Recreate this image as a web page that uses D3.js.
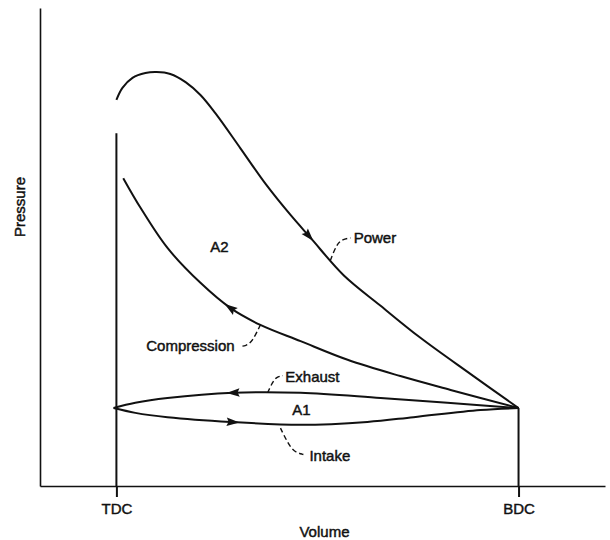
<!DOCTYPE html>
<html>
<head>
<meta charset="utf-8">
<script src="https://cdn.jsdelivr.net/npm/d3@7"></script>
<style>
  html, body { margin:0; padding:0; background:#fff; }
  svg { display:block; }
  text { font-family:"Liberation Sans", Arial, "DejaVu Sans", sans-serif; font-size:15px;
         fill:#111; stroke:#111; stroke-width:0.45px; }
</style>
</head>
<body>
<svg id="pv" width="610" height="540"></svg>
<script>
// Indicator (p-V) diagram of a four-stroke engine.
// Volume: 0 = TDC, 1 = BDC. Pressure in arbitrary units, 0 at the volume axis.

// Power stroke, TDC -> BDC
var POWER_V = [0, 0.015, 0.040, 0.072, 0.100, 0.134, 0.172, 0.209, 0.246, 0.308, 0.371, 0.433, 0.483, 0.565, 0.657, 0.756, 0.881, 1];
var POWER_P = [80.8, 83.3, 85.4, 86.4, 86.6, 86.2, 84.5, 81.8, 78.0, 70.7, 63.2, 56.7, 51.9, 44.1, 37.7, 31.0, 23.4, 16.3];

// Compression stroke, BDC -> TDC
var COMP_V = [1, 0.831, 0.706, 0.575, 0.458, 0.358, 0.284, 0.209, 0.127, 0.060, 0.017];
var COMP_P = [16.3, 20.1, 23.0, 26.4, 30.3, 33.7, 37.2, 42.5, 49.8, 58.2, 64.4];

// Exhaust stroke, BDC -> TDC
var EXH_V = [1, 0.823, 0.657, 0.458, 0.291, 0.127, 0.047, -0.007];
var EXH_P = [16.3, 17.4, 18.4, 19.5, 19.5, 18.4, 17.4, 16.3];

// Intake stroke, TDC -> BDC
var INT_V = [-0.007, 0.047, 0.127, 0.284, 0.458, 0.624, 0.739, 0.905, 1];
var INT_P = [16.3, 15.3, 14.4, 13.4, 12.8, 13.4, 14.4, 15.9, 16.3];

var STROKES   = ['Power', 'Compression', 'Exhaust', 'Intake'];
var ARROW_AT  = [0.478, 0.284, 0.291, 0.289];      // volume where each arrowhead sits
var TICK_V    = [0, 1];
var TICK_LBL  = ['TDC', 'BDC'];
var TDC_TOP_P = 73.8;                               // top of the TDC line
var BDC_P     = 16.3;                               // where all strokes meet at BDC

// callouts: label anchor + dashed leader, in data units
var NOTE_TEXT   = ['Power', 'Compression', 'Exhaust', 'Intake'];
var NOTE_ANCHOR = ['start', 'end', 'start', 'start'];
var NOTE_POS    = [[0.590, 51.9], [0.294, 29.3], [0.420, 22.8], [0.480, 6.3]];
var NOTE_LEAD   = [
  [[0.532, 47.2], [0.548, 50.6], [0.562, 51.6], [0.582, 51.9]],
  [[0.358, 33.7], [0.338, 30.2], [0.322, 29.3], [0.307, 29.2]],
  [[0.376, 19.5], [0.388, 21.7], [0.398, 22.8], [0.414, 23.1]],
  [[0.408, 12.1], [0.426, 9.0], [0.442, 7.1], [0.465, 6.6]]
];
var AREA_TEXT = ['A1', 'A2'];
var AREA_POS  = [[0.460, 15.9], [0.256, 50.0]];

var svg = d3.select('#pv');
var x = d3.scaleLinear([-0.19, 1.215], [40, 605]);
var y = d3.scaleLinear([0, 100], [486, 8]);

function zip(vs, ps){ return vs.map(function(v,i){ return [v, ps[i]]; }); }
var series = [zip(POWER_V, POWER_P), zip(COMP_V, COMP_P), zip(EXH_V, EXH_P), zip(INT_V, INT_P)];

/* ------------------------------------------------------------------ axes */
var xAxis = d3.axisBottom(x).tickValues(TICK_V)
  .tickFormat(function(d,i){ return TICK_LBL[i]; })
  .tickSize(11).tickSizeOuter(0).tickPadding(6);
var gx = svg.append('g').attr('transform', 'translate(0,' + y(0) + ')').call(xAxis);
gx.select('.domain').attr('stroke', '#111').attr('stroke-width', 1.6);
gx.selectAll('.tick line').attr('stroke', '#111').attr('stroke-width', 2);
gx.selectAll('.tick text').attr('font-size', 15).attr('fill', '#111').attr('font-family', null);

var yAxis = d3.axisLeft(y).tickValues([]).tickSizeOuter(0);
var gy = svg.append('g').attr('transform', 'translate(' + x.range()[0] + ',0)').call(yAxis);
gy.select('.domain').attr('stroke', '#111').attr('stroke-width', 1.6);

svg.append('text').attr('x', (x(0) + x(1)) / 2 + 7).attr('y', 537)
  .attr('text-anchor', 'middle').text('Volume');
svg.append('text').attr('transform', 'translate(25,207) rotate(-90)')
  .attr('text-anchor', 'middle').text('Pressure');

/* ------------------------------------------------ TDC and BDC verticals */
svg.append('line').attr('x1', x(0)).attr('x2', x(0))
  .attr('y1', y(TDC_TOP_P)).attr('y2', y(0))
  .attr('stroke', '#111').attr('stroke-width', 2);
svg.append('line').attr('x1', x(1)).attr('x2', x(1))
  .attr('y1', y(BDC_P)).attr('y2', y(0))
  .attr('stroke', '#111').attr('stroke-width', 2);

/* ----------------------------------------------------------- the cycle */
var line = d3.line().x(function(d){ return x(d[0]); }).y(function(d){ return y(d[1]); })
  .curve(d3.curveCatmullRom.alpha(0.5));

var paths = svg.append('g').selectAll('path').data(series).join('path')
  .attr('d', line).attr('fill', 'none').attr('stroke', '#111')
  .attr('stroke-width', 2).attr('stroke-linejoin', 'round');

// arrowheads, oriented along the direction each stroke is travelled
paths.each(function(d, i){
  var node = this, L = node.getTotalLength(), tx = x(ARROW_AT[i]);
  var best = 0, bd = Infinity;
  for (var l = 0; l <= L; l += 0.5){
    var pt = node.getPointAtLength(l), dd = Math.abs(pt.x - tx);
    if (dd < bd){ bd = dd; best = l; }
  }
  var a = node.getPointAtLength(Math.max(0, best - 2)), b = node.getPointAtLength(Math.min(L, best + 2));
  var ang = Math.atan2(b.y - a.y, b.x - a.x) * 180 / Math.PI;
  var c = node.getPointAtLength(best);
  svg.append('path').attr('d', 'M7,0 L-6,-4.2 L-4,0 L-6,4.2 Z')
    .attr('transform', 'translate(' + c.x + ',' + c.y + ') rotate(' + ang + ')')
    .attr('fill', '#111');
});

/* ---------------------------------------------------------- callouts */
var lead = d3.line().x(function(d){ return x(d[0]); }).y(function(d){ return y(d[1]); })
  .curve(d3.curveBasis);
svg.append('g').selectAll('path').data(NOTE_LEAD).join('path')
  .attr('d', lead).attr('fill', 'none').attr('stroke', '#111')
  .attr('stroke-width', 1.4).attr('stroke-dasharray', '5 3');

svg.append('g').selectAll('text').data(NOTE_TEXT).join('text')
  .attr('x', function(d,i){ return x(NOTE_POS[i][0]); })
  .attr('y', function(d,i){ return y(NOTE_POS[i][1]); })
  .attr('dy', '0.35em')
  .attr('text-anchor', function(d,i){ return NOTE_ANCHOR[i]; })
  .text(function(d){ return d; });

svg.append('g').selectAll('text').data(AREA_TEXT).join('text')
  .attr('x', function(d,i){ return x(AREA_POS[i][0]); })
  .attr('y', function(d,i){ return y(AREA_POS[i][1]); })
  .attr('dy', '0.35em').attr('text-anchor', 'middle')
  .text(function(d){ return d; });
</script>
</body>
</html>
